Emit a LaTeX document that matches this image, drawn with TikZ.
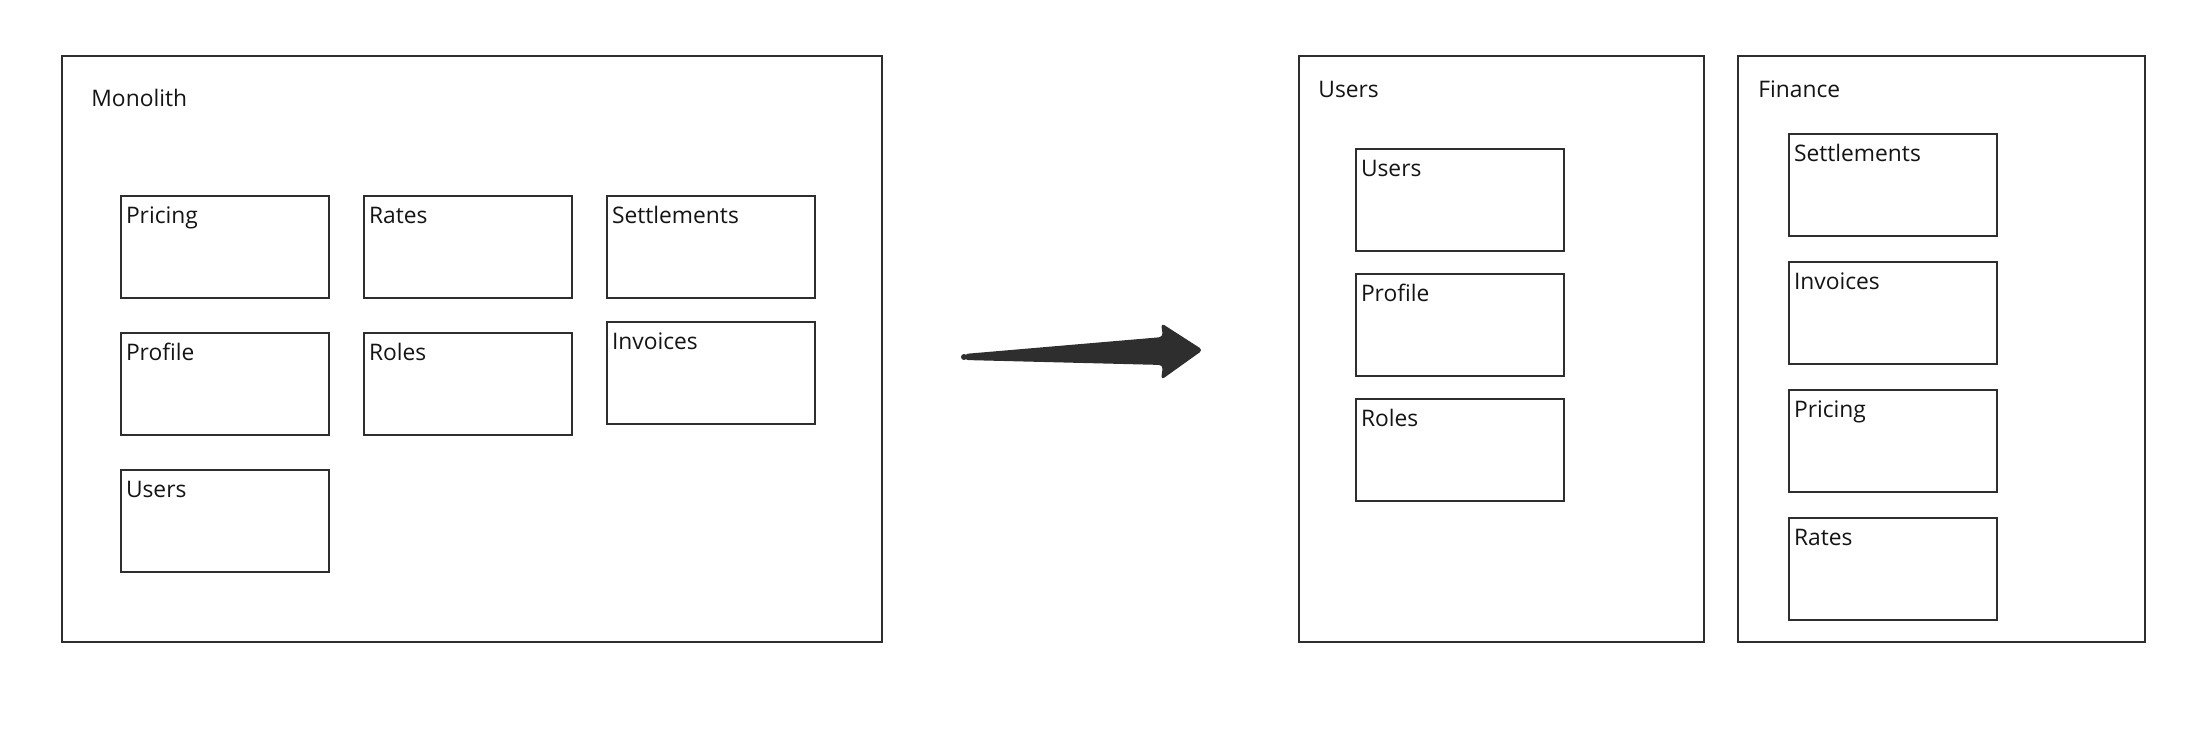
\documentclass[tikz,border=0pt]{standalone}
\usepackage{fontspec}
\setmainfont{Open Sans}
\definecolor{ink}{HTML}{2E2E2E}
\definecolor{txt}{HTML}{141414}
\tikzset{
  frame/.style={draw=ink, line width=1.2pt, inner sep=0pt, outer sep=0pt, anchor=north west},
  box/.style={frame, minimum width=104pt, minimum height=51pt},
  tag/.style={anchor=base west, text=txt, inner sep=0pt, font=\fontsize{11.4}{13}\selectfont},
}

\begin{document}
\begin{tikzpicture}[x=0.5pt, y=-0.5pt]
  \useasboundingbox (0,0) rectangle (2203,732);

  % before
  \node[frame, minimum width=410pt, minimum height=293pt] (mono) at (62,56) {};
  \node[tag] (mono-t) at ([xshift=14.5pt, yshift=-25.3pt]mono.north west) {Monolith};

  \foreach \nm/\txt/\x/\y in {m-pricing/Pricing/121/196, m-rates/Rates/364/196,
      m-settle/Settlements/607/196, m-profile/Profile/121/333, m-roles/Roles/364/333,
      m-invoices/Invoices/607/322, m-users/Users/121/470}{
    \node[box] (\nm) at (\x,\y) {};
    \node[tag] (\nm-t) at ([xshift=2.3pt, yshift=-13.75pt]\nm.north west) {\txt};
  }

  % arrow
  \coordinate (tail) at (964,357);
  \coordinate (tip) at (1203,350);
  \fill[ink, rounded corners=2pt] ([yshift=1.5pt]tail) -- (1163,337) -- (1161,323)
    -- (tip) -- (1161,380) -- (1163,365) -- ([yshift=-1.5pt]tail) -- cycle;
  \fill[ink] (tail) circle [radius=1.5pt];

  % after
  \node[frame, minimum width=202.5pt, minimum height=293pt] (svc-users) at (1299,56) {};
  \node[tag] (svc-users-t) at ([xshift=9.5pt, yshift=-21pt]svc-users.north west) {Users};
  \node[frame, minimum width=203.5pt, minimum height=293pt] (svc-fin) at (1738,56) {};
  \node[tag] (svc-fin-t) at ([xshift=10pt, yshift=-21pt]svc-fin.north west) {Finance};

  \foreach \nm/\txt/\x/\y in {u-users/Users/1356/149, u-profile/Profile/1356/274,
      u-roles/Roles/1356/399, f-settle/Settlements/1789/134, f-invoices/Invoices/1789/262,
      f-pricing/Pricing/1789/390, f-rates/Rates/1789/518}{
    \node[box] (\nm) at (\x,\y) {};
    \node[tag] (\nm-t) at ([xshift=2.3pt, yshift=-13.75pt]\nm.north west) {\txt};
  }
\end{tikzpicture}
\end{document}
